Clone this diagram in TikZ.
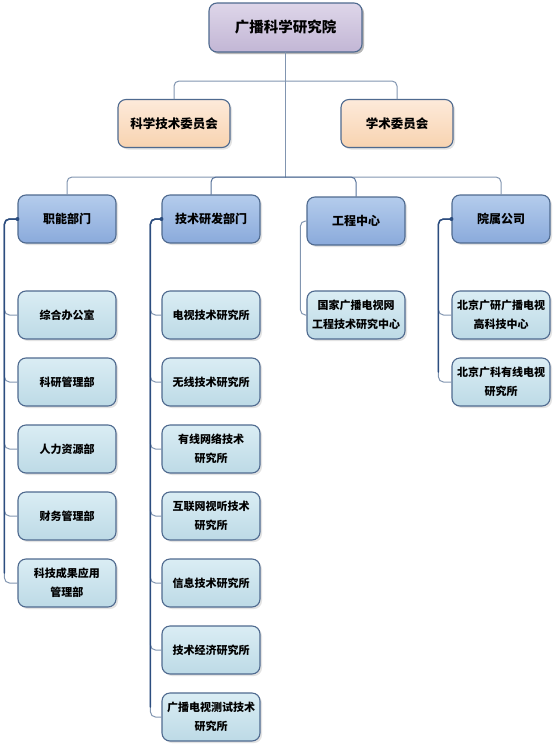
\documentclass[tikz,border=0pt]{standalone}
\usepackage{fontspec}
\setmainfont{Noto Sans CJK SC}
\usetikzlibrary{shadows}
\definecolor{boxline}{HTML}{4F6A8F}
\definecolor{topA}{HTML}{DED6E9}
\definecolor{topB}{HTML}{C2B6D5}
\definecolor{peachA}{HTML}{FDEADA}
\definecolor{peachB}{HTML}{F8D3B0}
\definecolor{blueA}{HTML}{B4CCEC}
\definecolor{blueB}{HTML}{8AAADB}
\definecolor{subA}{HTML}{DAEDF4}
\definecolor{subB}{HTML}{BDDAE6}
\definecolor{lnk}{HTML}{8195B0}
\definecolor{dkline}{HTML}{2C4D7F}
\begin{document}
\begin{tikzpicture}[x=1pt,y=-1pt,line join=round,line cap=round,
	box/.style={draw=boxline,line width=1.1pt,rounded corners=8pt,align=center,inner sep=0pt,minimum width=98pt,minimum height=48pt,font=\bfseries\fontsize{12}{16}\selectfont,drop shadow={shadow xshift=2pt,shadow yshift=-2pt,fill=black!22}},
	head/.style={box,minimum width=153pt,minimum height=49pt,top color=topA,bottom color=topB,font=\bfseries\fontsize{14.5}{18}\selectfont,drop shadow={shadow xshift=2pt,shadow yshift=-2pt,fill=black!45}},
	comm/.style={box,minimum width=112pt,top color=peachA,bottom color=peachB,font=\bfseries\fontsize{12.5}{16}\selectfont},
	dept/.style={box,top color=blueA,bottom color=blueB},
	sub/.style={box,top color=subA,bottom color=subB,font=\bfseries\fontsize{11}{19}\selectfont},
	conn/.style={draw=lnk,line width=1pt,rounded corners=5pt},
	dk/.style={draw=dkline,line width=1.5pt,rounded corners=5pt}]
	\useasboundingbox (0,0) rectangle (555,747);
	% top levels
	\node[head] (yuan) at (285.5,27.5) {广播科学研究院};
	\node[comm] (kjw) at (174,123.5) {科学技术委员会};
	\node[comm] (xsw) at (397,123.5) {学术委员会};
	\node[dept] (zn) at (67,219) {职能部门};
	\node[dept] (js) at (211,219) {技术研发部门};
	\node[dept] (gc) at (356,221) {工程中心};
	\node[dept] (ys) at (501,219) {院属公司};
	\coordinate (j1) at (285.5,81);
	\coordinate (j2) at (285.5,177);
	\draw[conn] (yuan.south) -- (j2);
	\draw[conn] (j1) -| (kjw.north);
	\draw[conn] (j1) -| (xsw.north);
	\foreach \d in {zn,ys} \draw[conn] (j2) -| (\d.north);
	\foreach \d in {js,gc} \draw[conn,draw=dkline!80] (j2) -| (\d.north);
	% children
	\foreach \t [count=\i] in {综合办公室,科研管理部,人力资源部,财务管理部,{科技成果应用\\管理部}}
	{\node[sub] (zn\i) at (67,{315+67*(\i-1)}) {\t};
	\draw[conn] (zn.west) -- ++(-13,0) |- (zn\i.west);}
	\foreach \t [count=\i] in {电视技术研究所,无线技术研究所,{有线网络技术\\研究所},{互联网视听技术\\研究所},信息技术研究所,技术经济研究所,{广播电视测试技术\\研究所}}
	{\node[sub] (js\i) at (211,{315+67*(\i-1)}) {\t};
	\draw[conn] (js.west) -- ++(-11,0) |- (js\i.west);}
	\node[sub] (gc1) at (356,315) {国家广播电视网\\工程技术研究中心};
	\draw[conn] (gc.west) -- ++(-6,0) |- (gc1.west);
	\foreach \t [count=\i] in {{北京广研广播电视\\高科技中心},{北京广科有线电视\\研究所}}
	{\node[sub] (ys\i) at (501,{315+67*(\i-1)}) {\t};
	\draw[conn] (ys.west) -- ++(-13,0) |- (ys\i.west);}
	% dark trunks
	\path (zn5.west) ++(-13,-10) coordinate (zn-end);
	\path (js7.west) ++(-11,-10) coordinate (js-end);
	\path (ys2.west) ++(-13,-10) coordinate (ys-end);
	\draw[dk] (zn.west) -- ++(-13,0) -- (zn-end);
	\draw[dk] (js.west) -- ++(-11,0) -- (js-end);
	\draw[dk] (ys.west) -- ++(-13,0) -- (ys-end);
	\foreach \d in {zn,js,ys} \fill[dkline] (\d.west) circle (2pt);
\end{tikzpicture}
\end{document}
